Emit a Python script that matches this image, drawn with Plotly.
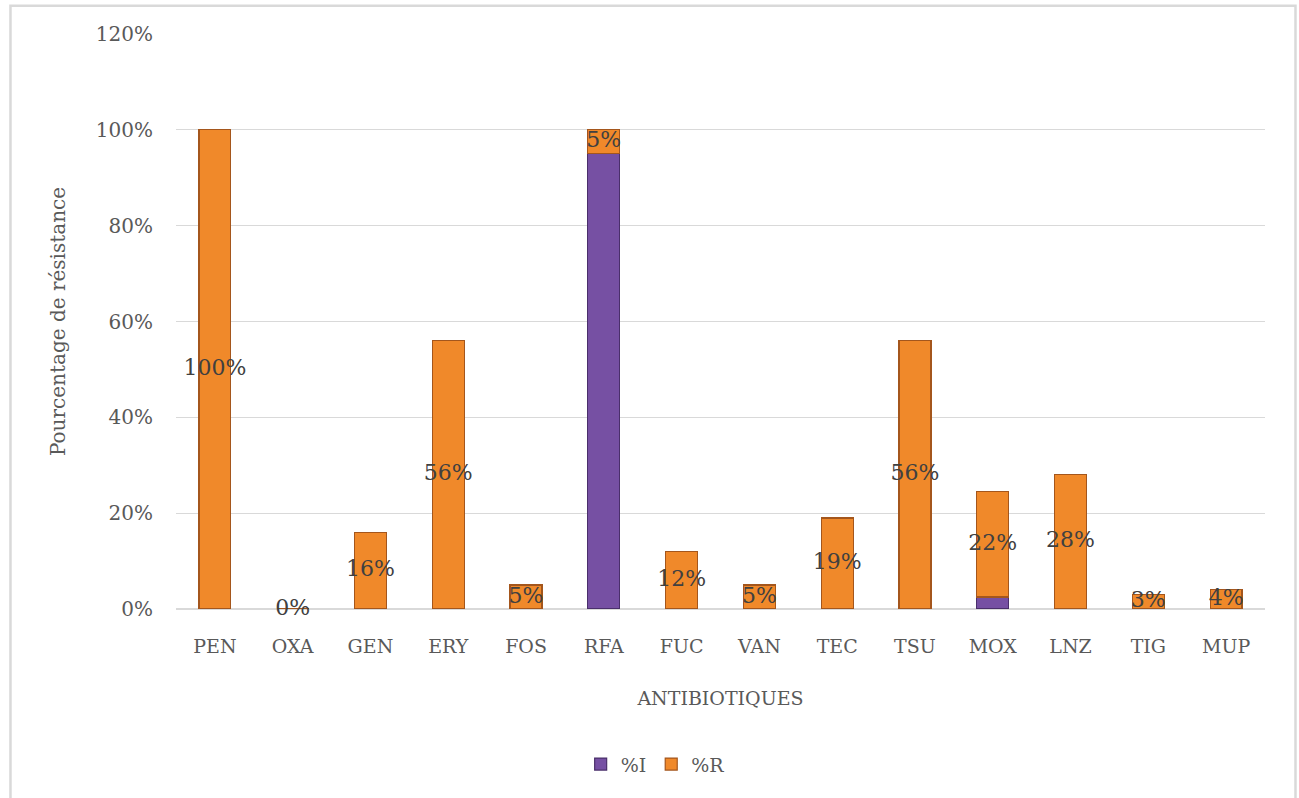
import plotly.graph_objects as go

# Antibiotic resistance profile: intermediate (%I) and resistant (%R) shares
antibiotiques = ["PEN", "OXA", "GEN", "ERY", "FOS", "RFA", "FUC", "VAN",
                 "TEC", "TSU", "MOX", "LNZ", "TIG", "MUP"]
pct_I = [0, 0, 0, 0, 0, 95, 0, 0, 0, 0, 2.5, 0, 0, 0]
pct_R = [100, 0, 16, 56, 5, 5, 12, 5, 19, 56, 22, 28, 3, 4]
y_ticks = [0, 20, 40, 60, 80, 100, 120]

FONT = "DejaVu Serif"
GREY = "#595959"
PURPLE = "#7650A3"
ORANGE = "#F0892A"

fig = go.Figure()

fig.add_trace(go.Bar(
    name="%I", x=antibiotiques, y=pct_I, width=0.41,
    marker=dict(color=PURPLE, line=dict(color="#4A2F6B", width=1.2)),
    hoverinfo="x+y",
))
fig.add_trace(go.Bar(
    name="%R", x=antibiotiques, y=pct_R, width=0.41,
    marker=dict(color=ORANGE, line=dict(color="#A4561C", width=1.2)),
    hoverinfo="x+y",
))

# %R value labels, centred on each resistant segment
label_y = [i + r / 2 for i, r in zip(pct_I, pct_R)]
fig.add_trace(go.Scatter(
    x=antibiotiques, y=label_y, mode="text",
    text=[f"{r:.0f}%" for r in pct_R],
    textfont=dict(family=FONT, size=22, color="#404040"),
    showlegend=False, hoverinfo="skip", cliponaxis=False,
))

fig.update_layout(
    barmode="stack",
    width=1299, height=798,
    margin=dict(l=176, r=34, t=34, b=189),
    paper_bgcolor="white", plot_bgcolor="white",
    font=dict(family=FONT, size=19, color=GREY),
    legend=dict(orientation="h", x=0.44, xanchor="center", y=-0.27, yanchor="middle",
                font=dict(family=FONT, size=19, color=GREY),
                itemwidth=30, traceorder="normal"),
    xaxis=dict(
        title=dict(text="ANTIBIOTIQUES", font=dict(family=FONT, size=19, color=GREY), standoff=35),
        tickfont=dict(family=FONT, size=19, color=GREY),
        range=[-0.5, len(antibiotiques) - 0.5],
        showgrid=False, showline=False, ticks="", ticklabelstandoff=24,
    ),
    yaxis=dict(
        title=dict(text="Pourcentage de résistance", font=dict(family=FONT, size=20, color=GREY),
                   standoff=24),
        range=[0, 120], tickvals=y_ticks, ticktext=[f"{v}%" for v in y_ticks],
        tickfont=dict(family=FONT, size=20, color=GREY),
        showgrid=True, gridcolor="#D9D9D9", gridwidth=1,
        zeroline=True, zerolinecolor="#D9D9D9", zerolinewidth=1.5,
        showline=False, ticks="", ticklabelstandoff=22,
    ),
)

# Light frame around the chart area
fig.add_shape(type="rect", xref="paper", yref="paper",
              x0=-0.152, x1=1.028, y0=-0.35, y1=1.049,
              line=dict(color="#D9D9D9", width=2.5), layer="below")

fig.write_html("out.html")
